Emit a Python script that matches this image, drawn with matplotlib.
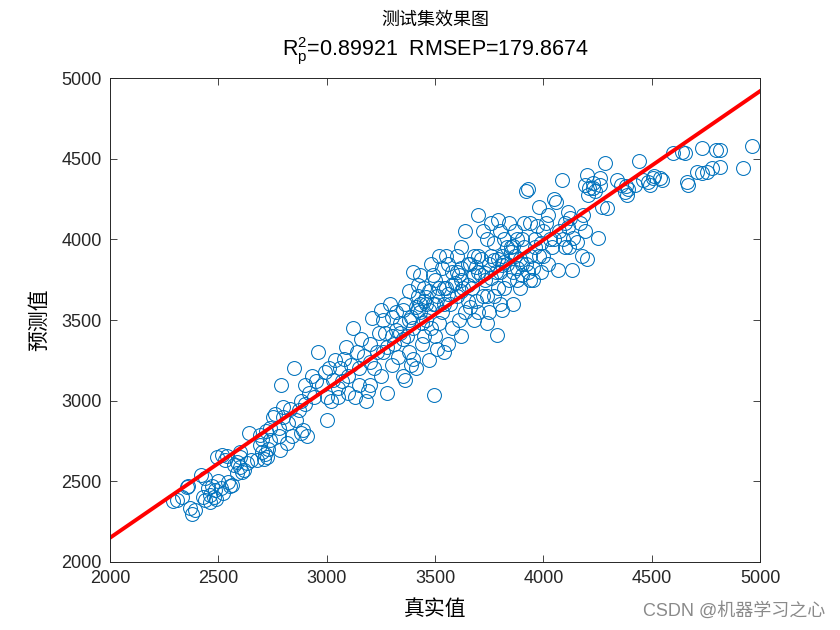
import matplotlib
matplotlib.use("Agg")
import matplotlib.pyplot as plt

plt.rcParams['font.family'] = ['Liberation Sans', 'Noto Sans CJK SC', 'DejaVu Sans']
plt.rcParams['mathtext.fontset'] = 'custom'
plt.rcParams['mathtext.rm'] = 'Liberation Sans'
plt.rcParams['mathtext.it'] = 'Liberation Sans'

true_vals = [
    2290, 2310, 2330, 2360,
    2370, 2390, 2380, 2355, 2420, 2430, 2440, 2450, 2440,
    2460, 2460, 2470, 2485, 2480, 2490, 2500, 2495, 2515, 2530, 2545, 2520, 2510, 2540,
    2555, 2565, 2585, 2600, 2585, 2610, 2630, 2600, 2620, 2640, 2650, 2600, 2570,
    2680, 2690, 2690, 2700, 2710, 2725, 2740, 2700, 2720, 2730, 2740, 2750, 2715,
    2760, 2785, 2800, 2815, 2790, 2780, 2800, 2820, 2840, 2830, 2850, 2780,
    2860, 2880, 2890, 2900, 2900, 2920, 2880, 2930, 2940, 2950, 2870, 2910, 2960,
    2980, 3000, 3000, 3010, 3030, 3050, 3020, 3040, 2990, 3050,
    3060, 3080, 3100, 3100, 3120, 3140, 3150, 3070, 3110, 3130, 3090, 3150,
    3180, 3200, 3200, 3220, 3240, 3250, 3170, 3190, 3230, 3210, 3160, 3250, 3200,
    3260, 3260, 3280, 3300, 3300, 3320, 3340, 3350, 3290, 3310, 3270, 3330, 3340, 3300, 3280, 3350,
    3360, 3380, 3380, 3400, 3400, 3410, 3420, 3430, 3440, 3370, 3390, 3410, 3420, 3440, 3450, 3360, 3400, 3430, 3450, 3380,
    3450, 3460, 3470, 3480, 3490, 3495, 3500, 3500, 3520, 3530, 3540, 3470, 3480, 3510, 3520, 3490, 3530, 3540, 3460, 3510, 3550, 3540,
    3550, 3560, 3580, 3600, 3600, 3620, 3620, 3640, 3570, 3590, 3610, 3630, 3650, 3560, 3640, 3600, 3580, 3650, 3620,
    3660, 3680, 3700, 3700, 3720, 3740, 3670, 3690, 3710, 3730, 3740, 3660, 3680, 3720, 3750, 3700, 3740, 3710,
    3750, 3760, 3786, 3800, 3800, 3820, 3840, 3770, 3790, 3810, 3830, 3760, 3780, 3800, 3820, 3850, 3840, 3790, 3770, 3810, 3830,
    3860, 3880, 3900, 3900, 3920, 3930, 3940, 3870, 3890, 3910, 3930, 3870, 3900, 3920, 3940, 3950, 3860, 3880, 3910,
    3950, 3960, 3980, 4000, 4000, 4020, 3970, 3990, 4010, 4030, 4040, 3960, 4050, 4050, 3980, 4020,
    4068, 4086, 4100, 4120, 4132, 4070, 4090, 4114, 4123, 4137, 4155, 4100, 4060, 4183, 4114,
    4180, 4201, 4192, 4229, 4206, 4262, 4252, 4170, 4210, 4230, 4260, 4190, 4240, 4270, 4200,
    4284, 4294, 4340, 4360, 4377, 4387, 4391, 4441, 4420, 4380,
    4460, 4492, 4483, 4506, 4511, 4538, 4548, 4598, 4640, 4654, 4663, 4668, 4709, 4732, 4755,
    4778, 4815, 4797, 4815, 4732, 4921, 4963,
    3320, 3350, 3390, 3430, 3470, 3520, 3560, 3610, 3650, 3690, 3730, 3770, 3810, 3850, 3890,
    3420, 3460, 3500, 3580, 3620, 3680, 3760, 3820, 3880, 3940, 3990, 3620, 3700, 3790, 3860,
]

pred_vals = [
    2380, 2385, 2400, 2470,
    2335, 2320, 2300, 2465, 2540, 2400, 2385, 2460, 2520,
    2415, 2370, 2470, 2445, 2400, 2390, 2500, 2650, 2665, 2630, 2495, 2430, 2460, 2660,
    2470, 2480, 2620, 2590, 2550, 2560, 2615, 2680, 2570, 2800, 2630, 2650, 2600,
    2630, 2725, 2790, 2680, 2640, 2650, 2755, 2760, 2810, 2700, 2830, 2900, 2670,
    2920, 2695, 2960, 2740, 3100, 2830, 2900, 2860, 2780, 2950, 3200, 2780,
    2880, 2800, 2820, 3100, 2980, 3050, 3000, 3150, 3020, 3120, 2940, 2780, 3300,
    3100, 2880, 3020, 3200, 3130, 3020, 3000, 3250, 3180, 3080,
    3200, 3260, 3150, 3050, 3450, 3300, 3100, 3120, 3220, 3020, 3330, 3200,
    3000, 3350, 3100, 3200, 3420, 3560, 3280, 3060, 3300, 3510, 3380, 3150, 3240,
    3500, 3300, 3050, 3400, 3220, 3550, 3480, 3150, 3600, 3350, 3420, 3270, 3420, 3520, 3330, 3560,
    3600, 3500, 3300, 3800, 3450, 3200, 3650, 3550, 3350, 3400, 3220, 3580, 3720, 3480, 3620, 3130, 3260, 3780, 3400, 3680,
    3700, 3500, 3250, 3850, 3600, 3035, 3400, 3750, 3900, 3550, 3300, 3680, 3450, 3650, 3480, 3780, 3820, 3700, 3600, 3320, 3900, 3600,
    3700, 3850, 3450, 3800, 3650, 3950, 3400, 3550, 3600, 3730, 3500, 3700, 3850, 3350, 4050, 3900, 3800, 3620, 3750,
    3850, 3500, 3800, 4150, 3650, 4000, 3700, 3620, 3880, 3750, 3480, 3580, 3900, 4050, 3850, 3550, 3650, 3780,
    3550, 3900, 3407, 4050, 3800, 3700, 4100, 3980, 3700, 3900, 3850, 4100, 3800, 3600, 4000, 3950, 3750, 4120, 3650, 3560, 3950,
    3600, 3750, 4000, 3850, 4300, 3800, 4100, 3900, 3700, 3950, 4310, 4050, 3780, 3850, 3750, 3820, 3800, 4000, 4100,
    3750, 3950, 4200, 3900, 4050, 3850, 4080, 3800, 4100, 4000, 3950, 4000, 4250, 4000, 3900, 4150,
    3810, 4368, 4100, 3950, 3810, 4050, 4000, 4169, 4132, 4008, 3983, 3950, 4230, 4150, 4076,
    3900, 4399, 4337, 4318, 4275, 4337, 4008, 4100, 4320, 4350, 4380, 4050, 4300, 4200, 3880,
    4473, 4194, 4368, 4340, 4293, 4275, 4312, 4485, 4340, 4330,
    4368, 4337, 4355, 4380, 4392, 4380, 4368, 4535, 4541, 4535, 4355, 4337, 4417, 4411, 4417,
    4442, 4448, 4554, 4554, 4566, 4442, 4578,
    3440, 3380, 3520, 3600, 3560, 3700, 3660, 3780, 3720, 3830, 3790, 3870, 3840, 3920, 3880,
    3560, 3640, 3600, 3720, 3680, 3780, 3760, 3860, 3820, 3900, 3980, 3820, 3900, 3880, 3960,
]

line_x = [2000, 5000]
line_y = [2150, 4920]

fig = plt.figure(figsize=(8.4, 6.3), dpi=100)
ax = fig.add_axes([0.131, 0.108, 0.774, 0.768])

ax.plot(true_vals, pred_vals, 'o', markersize=10, markerfacecolor='none',
        markeredgecolor='#0072BD', markeredgewidth=0.75, linestyle='none')
ax.plot(line_x, line_y, '-', color='#FF0000', linewidth=2.8)

ax.set_xlim(2000, 5000)
ax.set_ylim(2000, 5000)
ax.set_xticks([2000, 2500, 3000, 3500, 4000, 4500, 5000])
ax.set_yticks([2000, 2500, 3000, 3500, 4000, 4500, 5000])
ax.tick_params(direction='in', length=5, width=0.6, top=True, right=True,
               labelsize=13, pad=6, colors='#262626')
for s in ax.spines.values():
    s.set_linewidth(0.7)
    s.set_color('#262626')

ax.set_xlabel('真实值', fontsize=15, family=['Noto Sans CJK SC'], labelpad=8)
ax.set_ylabel('预测值', fontsize=15, family=['Noto Sans CJK SC'], labelpad=8)

fig.text(0.518, 0.968, '测试集效果图', ha='center', va='center', fontsize=13,
         family=['Noto Sans CJK SC'])
fig.text(0.518, 0.918, r'R$\mathregular{_p^2}$=0.89921  RMSEP=179.8674', ha='center',
         va='center', fontsize=15.5)

fig.text(0.982, 0.03, 'CSDN @机器学习之心', ha='right', va='center', fontsize=13,
         color='#8a8a8a', family=['Liberation Sans', 'Noto Sans CJK SC'])

fig.savefig('out.png', dpi=100)
